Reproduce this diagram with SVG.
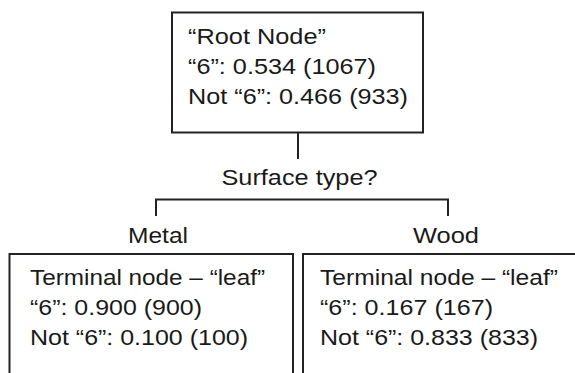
<svg xmlns="http://www.w3.org/2000/svg" width="575" height="373" viewBox="0 0 575 373">
<style>
.box{fill:#fff;stroke:#222;stroke-width:2}
.conn{fill:none;stroke:#222;stroke-width:2}
text{font-family:"Liberation Sans",Arial,sans-serif;font-size:22px;fill:#1a1a1a}
</style>
<rect width="575" height="373" fill="#fff"/>
<g id="connectors">
<polyline class="conn" points="298,133 298,159"/>
<polyline class="conn" points="156,216 156,199.5 448,199.5 448,216"/>
<text x="221.5" y="185" textLength="156" lengthAdjust="spacingAndGlyphs">Surface type?</text>
<text x="128" y="243" textLength="60" lengthAdjust="spacingAndGlyphs">Metal</text>
<text x="413" y="243" textLength="66" lengthAdjust="spacingAndGlyphs">Wood</text>
</g>
<g id="root">
<rect class="box" x="172" y="12.5" width="251" height="120"/>
<text x="188" y="44" textLength="138" lengthAdjust="spacingAndGlyphs">“Root Node”</text>
<text x="188" y="74" textLength="188" lengthAdjust="spacingAndGlyphs">“6”: 0.534 (1067)</text>
<text x="188" y="103.5" textLength="220" lengthAdjust="spacingAndGlyphs">Not “6”: 0.466 (933)</text>
</g>
<g id="leaf-metal">
<rect class="box" x="9.5" y="254" width="283.5" height="140"/>
<text x="30" y="285" textLength="235" lengthAdjust="spacingAndGlyphs">Terminal node – “leaf”</text>
<text x="30" y="315" textLength="172" lengthAdjust="spacingAndGlyphs">“6”: 0.900 (900)</text>
<text x="30" y="344.5" textLength="218" lengthAdjust="spacingAndGlyphs">Not “6”: 0.100 (100)</text>
</g>
<g id="leaf-wood">
<rect class="box" x="303" y="254" width="290" height="140"/>
<text x="320" y="285" textLength="238" lengthAdjust="spacingAndGlyphs">Terminal node – “leaf”</text>
<text x="320" y="315" textLength="173" lengthAdjust="spacingAndGlyphs">“6”: 0.167 (167)</text>
<text x="320" y="344.5" textLength="218" lengthAdjust="spacingAndGlyphs">Not “6”: 0.833 (833)</text>
</g>
</svg>
